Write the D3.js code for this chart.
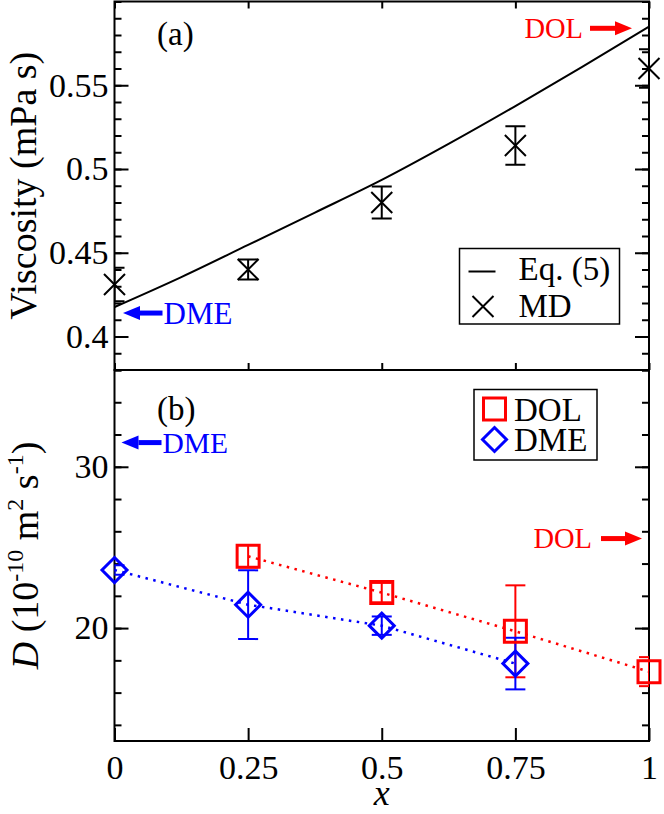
<!DOCTYPE html>
<html>
<head>
<meta charset="utf-8">
<script src="https://cdn.jsdelivr.net/npm/d3@7"></script>
<style>
  body { margin: 0; background: #fff; }
  svg { display: block; }
  text { font-family: "Liberation Serif", "Times New Roman", Times, "DejaVu Serif", serif; }
</style>
</head>
<body>
<div id="chart"></div>
<script>
// ---------- data ----------
const xTicks = [0, 0.25, 0.5, 0.75, 1];
const xTickLabels = ["0", "0.25", "0.5", "0.75", "1"];

// panel (a): viscosity
const mdX = [0, 0.25, 0.5, 0.75, 1];
const mdVisc = [0.431, 0.440, 0.480, 0.514, 0.560];
const mdViscErr = [0.010, 0.006, 0.0095, 0.0115, 0.0115];
const eqX = [0, 0.125, 0.25, 0.375, 0.5, 0.625, 0.75, 0.875, 1];
const eqVisc = [0.4176, 0.4355, 0.4547, 0.4740, 0.4935, 0.5150, 0.5376, 0.561, 0.585];
const viscTicks = [0.4, 0.45, 0.5, 0.55];
const viscTickLabels = ["0.4", "0.45", "0.5", "0.55"];
const viscDME = 0.414;
const viscDOL = 0.584;

// panel (b): diffusion coefficient
const dolX = [0.25, 0.5, 0.75, 1];
const dolD = [24.45, 22.2, 19.8, 17.3];
const dolErr = [0.7, 0.6, 2.85, 0.9];
const dmeX = [0, 0.25, 0.5, 0.75];
const dmeD = [23.6, 21.45, 20.15, 17.8];
const dmeErr = [0.3, 2.13, 0.57, 1.6];
const dTicks = [20, 30];
const dTickLabels = ["20", "30"];
const dDME = 31.5;
const dDOL = 25.55;

// ---------- layout ----------
const width = 664;
const height = 814;
const left = 114.5, right = 649;
const topA = 1.5, bottomA = 370;
const topB = 370, bottomB = 741;
const RED = "#ff0000", BLUE = "#0000ff";

const svg = d3.select("#chart")
  .append("svg")
    .attr("width", width)
    .attr("height", height)
    .attr("viewBox", `0 0 ${width} ${height}`);

// clip regions so error bar caps stop at the frame, like the original
const defs = svg.append("defs");
[["clipA", topA, bottomA], ["clipB", topB, bottomB]].forEach(([id, t, b]) => {
  defs.append("clipPath").attr("id", id)
    .append("rect").attr("x", left).attr("y", t)
    .attr("width", right - left).attr("height", b - t);
});

// ---------- scales ----------
const xScale = d3.scaleLinear().domain([0, 1]).range([left, right]);
const yA = d3.scaleLinear().domain([0.38, 0.6]).range([bottomA, topA]);
const yB = d3.scaleLinear().domain([13, 36]).range([bottomB, topB]);

// ---------- axes helpers ----------
const styleAxis = g => {
  g.attr("font-family", null);
  g.select(".domain").remove();
  g.selectAll(".tick line").attr("stroke", "#000").attr("stroke-width", 2);
  g.selectAll(".tick text").attr("font-size", 34).attr("fill", "#000");
};

const minorA = d3.range(0.38, 0.6001, 0.01).map(v => +v.toFixed(2));
const minorB = d3.range(14, 36.01, 2);

// panel a axes
svg.append("g").attr("transform", `translate(${left},0)`)
  .call(d3.axisLeft(yA).tickValues(minorA).tickSize(-7).tickFormat(""))
  .call(styleAxis);
svg.append("g").attr("transform", `translate(${left},0)`)
  .call(d3.axisLeft(yA).tickValues(viscTicks).tickSize(-14).tickPadding(6)
    .tickFormat((d, i) => viscTickLabels[i]))
  .call(styleAxis);
svg.append("g").attr("transform", `translate(${right},0)`)
  .call(d3.axisRight(yA).tickValues(minorA).tickSize(-7).tickFormat(""))
  .call(styleAxis);
svg.append("g").attr("transform", `translate(${right},0)`)
  .call(d3.axisRight(yA).tickValues(viscTicks).tickSize(-14).tickFormat(""))
  .call(styleAxis);
svg.append("g").attr("transform", `translate(0,${topA})`)
  .call(d3.axisTop(xScale).tickValues(xTicks).tickSize(-7).tickFormat(""))
  .call(styleAxis);
svg.append("g").attr("transform", `translate(0,${bottomA})`)
  .call(d3.axisBottom(xScale).tickValues(xTicks).tickSize(-7).tickFormat(""))
  .call(styleAxis);

// panel b axes
svg.append("g").attr("transform", `translate(${left},0)`)
  .call(d3.axisLeft(yB).tickValues(minorB).tickSize(-7).tickFormat(""))
  .call(styleAxis);
svg.append("g").attr("transform", `translate(${left},0)`)
  .call(d3.axisLeft(yB).tickValues(dTicks).tickSize(-14).tickPadding(6)
    .tickFormat((d, i) => dTickLabels[i]))
  .call(styleAxis);
svg.append("g").attr("transform", `translate(${right},0)`)
  .call(d3.axisRight(yB).tickValues(minorB).tickSize(-7).tickFormat(""))
  .call(styleAxis);
svg.append("g").attr("transform", `translate(${right},0)`)
  .call(d3.axisRight(yB).tickValues(dTicks).tickSize(-14).tickFormat(""))
  .call(styleAxis);
svg.append("g").attr("transform", `translate(0,${bottomB})`)
  .call(d3.axisBottom(xScale).tickValues(xTicks).tickSize(-13).tickPadding(14)
    .tickFormat((d, i) => xTickLabels[i]))
  .call(styleAxis);

// frames
[[topA, bottomA], [topB, bottomB]].forEach(([t, b]) => {
  svg.append("rect")
    .attr("x", left).attr("y", t)
    .attr("width", right - left).attr("height", b - t)
    .attr("fill", "none").attr("stroke", "#000").attr("stroke-width", 2);
});

// ---------- shared mark helpers ----------
const errorBar = (g, x, y, e, yScale, color) => {
  const px = xScale(x);
  const y0 = yScale(y - e), y1 = yScale(y + e);
  g.append("line").attr("x1", px).attr("x2", px).attr("y1", y0).attr("y2", y1)
    .attr("stroke", color).attr("stroke-width", 2);
  [y0, y1].forEach(yy => g.append("line")
    .attr("x1", px - 10).attr("x2", px + 10).attr("y1", yy).attr("y2", yy)
    .attr("stroke", color).attr("stroke-width", 2));
};
const arrow = (g, xTip, xTail, y, color) => {
  const dir = Math.sign(xTail - xTip);
  const head = 17;
  g.append("line").attr("x1", xTail).attr("x2", xTip + dir * head)
    .attr("y1", y).attr("y2", y).attr("stroke", color).attr("stroke-width", 5);
  g.append("path")
    .attr("d", `M${xTip},${y} L${xTip + dir * head},${y - 7} L${xTip + dir * head},${y + 7} Z`)
    .attr("fill", color);
};
const crossPath = (cx, cy, r) => `M${cx - r},${cy - r}L${cx + r},${cy + r}M${cx - r},${cy + r}L${cx + r},${cy - r}`;
const squarePath = (cx, cy, r) => `M${cx - r},${cy - r}h${2 * r}v${2 * r}h${-2 * r}Z`;
const diamondPath = (cx, cy, r) => `M${cx},${cy - r}L${cx + r},${cy}L${cx},${cy + r}L${cx - r},${cy}Z`;

// ---------- panel (a) ----------
const gA = svg.append("g");
const eqLine = d3.line()
  .x((d, i) => xScale(eqX[i]))
  .y(d => yA(d))
  .curve(d3.curveMonotoneX);
gA.append("path").attr("d", eqLine(eqVisc))
  .attr("fill", "none").attr("stroke", "#000").attr("stroke-width", 2);

const errA = gA.append("g").attr("clip-path", "url(#clipA)");
mdVisc.forEach((v, i) => {
  errorBar(errA, mdX[i], v, mdViscErr[i], yA, "#000");
  gA.append("path").attr("d", crossPath(xScale(mdX[i]), yA(v), 10.5))
    .attr("stroke", "#000").attr("stroke-width", 2).attr("fill", "none");
});

// pure-component reference arrows
arrow(gA, xScale(0) + 8.5, xScale(0) + 48, yA(viscDME), BLUE);
gA.append("text").attr("x", xScale(0) + 49).attr("y", yA(viscDME) + 11)
  .attr("font-size", 31).attr("fill", BLUE).text("DME");
arrow(gA, xScale(1) - 17, xScale(1) - 59, yA(viscDOL), RED);
gA.append("text").attr("x", xScale(1) - 66).attr("y", yA(viscDOL) + 10)
  .attr("font-size", 28.5).attr("fill", RED).attr("text-anchor", "end").text("DOL");

gA.append("text").attr("x", 157).attr("y", 45).attr("font-size", 33).text("(a)");

// legend (a)
const legA = gA.append("g").attr("transform", "translate(459.5,248.5)");
legA.append("rect").attr("width", 160).attr("height", 75.5)
  .attr("fill", "#fff").attr("stroke", "#000").attr("stroke-width", 1.5);
legA.append("line").attr("x1", 9).attr("x2", 36).attr("y1", 23).attr("y2", 23)
  .attr("stroke", "#000").attr("stroke-width", 2);
legA.append("text").attr("x", 59).attr("y", 31).attr("font-size", 33).text("Eq. (5)");
legA.append("path").attr("d", crossPath(23.5, 58, 10.5))
  .attr("stroke", "#000").attr("stroke-width", 2).attr("fill", "none");
legA.append("text").attr("x", 59).attr("y", 68).attr("font-size", 33).text("MD");

// y label (a)
svg.append("text")
  .attr("transform", `translate(36,${(topA + bottomA) / 2}) rotate(-90)`)
  .attr("text-anchor", "middle").attr("font-size", 38)
  .text("Viscosity (mPa s)");

// ---------- panel (b) ----------
const gB = svg.append("g");
const dotted = (xs, ys, color) => {
  const line = d3.line().x((d, i) => xScale(xs[i])).y(d => yB(d));
  gB.append("path").attr("d", line(ys))
    .attr("fill", "none").attr("stroke", color).attr("stroke-width", 2.5)
    .attr("stroke-dasharray", "2.5,5.5");
};
dotted(dolX, dolD, RED);
dotted(dmeX, dmeD, BLUE);

const errB = gB.append("g").attr("clip-path", "url(#clipB)");
dolD.forEach((v, i) => errorBar(errB, dolX[i], v, dolErr[i], yB, RED));
dmeD.forEach((v, i) => errorBar(errB, dmeX[i], v, dmeErr[i], yB, BLUE));
dolD.forEach((v, i) => gB.append("path").attr("d", squarePath(xScale(dolX[i]), yB(v), 11))
  .attr("stroke", RED).attr("stroke-width", 3).attr("fill", "none"));
dmeD.forEach((v, i) => gB.append("path").attr("d", diamondPath(xScale(dmeX[i]), yB(v), 12.5))
  .attr("stroke", BLUE).attr("stroke-width", 3).attr("fill", "none"));

arrow(gB, xScale(0) + 7, xScale(0) + 47, yB(dDME), BLUE);
gB.append("text").attr("x", xScale(0) + 48).attr("y", yB(dDME) + 10.5)
  .attr("font-size", 29.5).attr("fill", BLUE).text("DME");
arrow(gB, xScale(1) - 7, xScale(1) - 48, yB(dDOL), RED);
gB.append("text").attr("x", xScale(1) - 57).attr("y", yB(dDOL) + 9.5)
  .attr("font-size", 28.5).attr("fill", RED).attr("text-anchor", "end").text("DOL");

gB.append("text").attr("x", 157).attr("y", 420).attr("font-size", 33).text("(b)");

// legend (b)
const legB = gB.append("g").attr("transform", "translate(474,389.5)");
legB.append("rect").attr("width", 123).attr("height", 70.5)
  .attr("fill", "#fff").attr("stroke", "#000").attr("stroke-width", 1.5);
legB.append("path").attr("d", squarePath(20.5, 19.5, 11))
  .attr("stroke", RED).attr("stroke-width", 3).attr("fill", "none");
legB.append("text").attr("x", 40).attr("y", 31).attr("font-size", 33).text("DOL");
legB.append("path").attr("d", diamondPath(20.5, 50, 12))
  .attr("stroke", BLUE).attr("stroke-width", 3).attr("fill", "none");
legB.append("text").attr("x", 40).attr("y", 61).attr("font-size", 33).text("DME");

// y label (b)
const yLabB = svg.append("text")
  .attr("transform", `translate(38,${(topB + bottomB) / 2}) rotate(-90)`)
  .attr("text-anchor", "middle").attr("font-size", 38);
yLabB.append("tspan").attr("font-style", "italic").text("D");
yLabB.append("tspan").text(" (10");
yLabB.append("tspan").attr("font-size", 24).attr("dy", -15).text("-10");
yLabB.append("tspan").attr("dy", 15).text(" m");
yLabB.append("tspan").attr("font-size", 24).attr("dy", -15).text("2");
yLabB.append("tspan").attr("dy", 15).text(" s");
yLabB.append("tspan").attr("font-size", 24).attr("dy", -15).text("-1");
yLabB.append("tspan").attr("dy", 15).text(")");

// x label
svg.append("text").attr("x", xScale(0.5)).attr("y", 805)
  .attr("text-anchor", "middle").attr("font-size", 36).attr("font-style", "italic")
  .text("x");
</script>
</body>
</html>
